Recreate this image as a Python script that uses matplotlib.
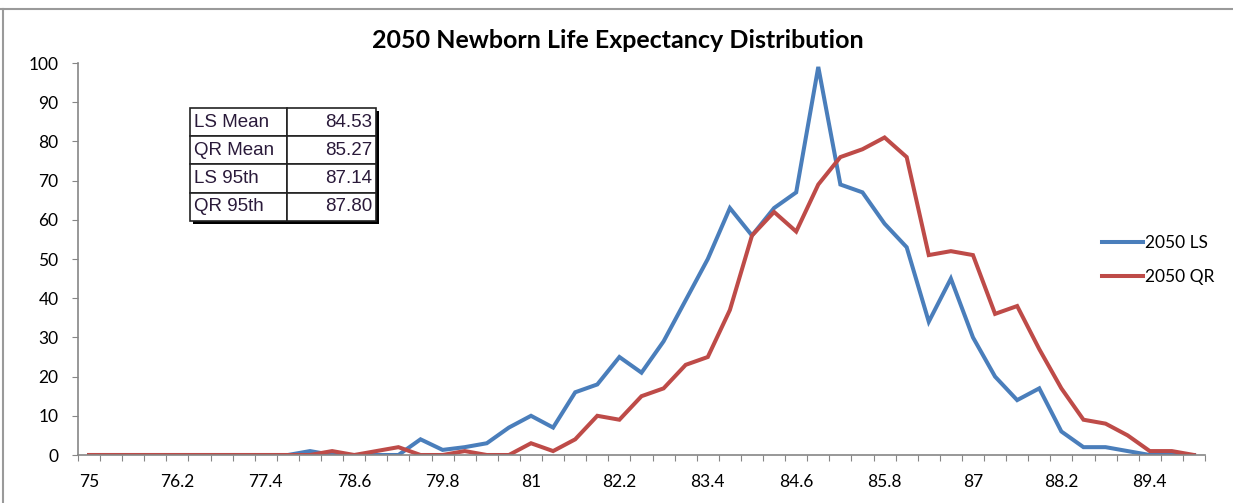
import numpy as np
import matplotlib.pyplot as plt
from matplotlib.lines import Line2D
from matplotlib.patches import Rectangle

# categories: 75.0 .. 90.0 in steps of 0.3
ages = [round(75 + 0.3 * i, 1) for i in range(51)]

ls_2050 = [0, 0, 0, 0, 0, 0, 0, 0, 0, 0,
           1, 0, 0, 0, 0, 4, 1.3, 2, 3, 7,
           10, 7, 16, 18, 25, 21, 29, 39.5, 50, 63,
           56, 63, 67, 99, 69, 67, 59, 53, 34, 45,
           30, 20, 14, 17, 6, 2, 2, 1, 0, 0, 0]
qr_2050 = [0, 0, 0, 0, 0, 0, 0, 0, 0, 0,
           0, 1, 0, 1, 2, 0, 0, 1, 0, 0,
           3, 1, 4, 10, 9, 15, 17, 23, 25, 37,
           56, 62, 57, 69, 76, 78, 81, 76, 51, 52,
           51, 36, 38, 27, 17, 9, 8, 5, 1, 1, 0]

stat_names = ['LS Mean', 'QR Mean', 'LS 95th', 'QR 95th']
stat_values = ['84.53', '85.27', '87.14', '87.80']

label_every = 4
blue = '#4a7ebb'
red = '#be4b48'
axis_gray = '#868686'

plt.rcParams['font.family'] = ['Lato', 'DejaVu Sans']

fig = plt.figure(figsize=(12.33, 5.03), dpi=100)
ax = fig.add_axes([78 / 1233, 48 / 503, 1127 / 1233, 392 / 503])

x = np.arange(len(ages))
ax.plot(x, ls_2050, color=blue, lw=2.9, solid_joinstyle='miter')
ax.plot(x, qr_2050, color=red, lw=2.9, solid_joinstyle='miter')

ax.set_xlim(-0.5, len(ages) - 0.5)
ax.set_ylim(0, 100)
ax.set_yticks(range(0, 101, 10))
ax.tick_params(axis='y', direction='out', length=4, color=axis_gray,
               labelsize=12.5, pad=10)

# tick marks between categories, labels on every 4th category
ax.set_xticks(np.arange(-0.5, len(ages), 1))
ax.set_xticklabels([])
ax.tick_params(axis='x', which='major', direction='out', length=4, color=axis_gray)
lab_pos = x[::label_every]
ax.set_xticks(lab_pos, minor=True)
ax.set_xticklabels([f'{ages[i]:g}' for i in lab_pos], minor=True)
ax.tick_params(axis='x', which='minor', length=0, labelsize=12.5, pad=14)

for s in ['top', 'right']:
    ax.spines[s].set_visible(False)
for s in ['left', 'bottom']:
    ax.spines[s].set_color(axis_gray)
    ax.spines[s].set_linewidth(1.2)

fig.text(618 / 1233, 1 - 41 / 503, '2050 Newborn Life Expectancy Distribution',
         ha='center', va='center', fontsize=18, fontweight='bold')

# stats box with a small drop shadow
bx, by = (190 - 78) / 1127, (455 - 221) / 392
bw, bh = 186 / 1127, 113 / 392
ax.add_patch(Rectangle((bx + 3 / 1127, by - 3 / 392), bw, bh, transform=ax.transAxes,
                       facecolor='black', edgecolor='none', zorder=4))
tbl = ax.table(cellText=[[n, v] for n, v in zip(stat_names, stat_values)],
               colWidths=[0.52, 0.48], bbox=[bx, by, bw, bh])
tbl.set_zorder(5)
tbl.auto_set_font_size(False)
for (r, c), cell in tbl.get_celld().items():
    cell.set_linewidth(1.2)
    cell.set_edgecolor('#222222')
    cell.PAD = 0.04
    t = cell.get_text()
    t.set_fontfamily('Liberation Sans')
    t.set_fontsize(13.5)
    t.set_color('#2a1a3a')
    cell.set_text_props(ha='left' if c == 0 else 'right')

handles = [Line2D([], [], color=blue, lw=2.9), Line2D([], [], color=red, lw=2.9)]
fig.legend(handles, ['2050 LS', '2050 QR'], loc='upper left',
           bbox_to_anchor=(1086 / 1233, 1 - 219 / 503), frameon=False,
           fontsize=12.5, handlelength=2.4, handletextpad=0.1, labelspacing=1.05)

# outer chart border
fig.add_artist(Line2D([0, 1], [1 - 9 / 503, 1 - 9 / 503], color='#9a9a9a', lw=1.5))
fig.add_artist(Line2D([3 / 1233, 3 / 1233], [0, 1 - 9 / 503], color='#9a9a9a', lw=1.5))

fig.savefig('out.png', dpi=100)
